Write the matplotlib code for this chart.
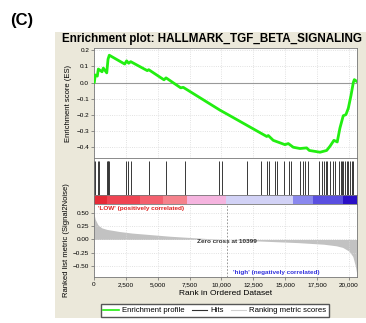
import numpy as np
import matplotlib
matplotlib.use("Agg")
import matplotlib.pyplot as plt
from matplotlib.patches import Rectangle
from matplotlib.lines import Line2D

plt.rcParams['font.family'] = ['Liberation Sans', 'DejaVu Sans']

# running enrichment score (rank, ES)
es_rank = [0, 24, 100, 260, 340, 630, 730, 1000, 1100, 1200, 2410, 2560, 2720, 2880,
           4180, 4290, 5490, 5650, 6800, 7000, 9880, 10670, 13550, 13670, 14060, 14980,
           15240, 15630, 16160, 16680, 16890, 17730, 18250, 18510, 18820, 19080, 19290,
           19550, 19760, 19950, 20160, 20340, 20420, 20600]
es_value = [0.0, 0.0, 0.047, 0.040, 0.084, 0.067, 0.09, 0.06, 0.145, 0.17, 0.115, 0.135,
            0.12, 0.13, 0.074, 0.08, 0.017, 0.029, -0.033, -0.030, -0.172, -0.207, -0.336,
            -0.330, -0.36, -0.387, -0.38, -0.403, -0.411, -0.407, -0.423, -0.434, -0.423,
            -0.397, -0.36, -0.37, -0.284, -0.207, -0.2, -0.16, -0.08, 0.0, 0.018, 0.008]

# positions of gene set members in the ranked list
hits = [24, 100, 340, 420, 1000, 1060, 1120, 1200, 2510, 2640, 2930, 4340, 5650, 7110,
        9830, 10020, 12040, 13100, 13590, 13750, 14200, 14330, 14900, 15290, 15430,
        16160, 16370, 16570, 16810, 17670, 17860, 18040, 18200, 18300, 18510, 18770,
        18900, 19240, 19350, 19450, 19550, 19690, 19820, 19950, 20080, 20240, 20340]

# ranked list metric (Signal2Noise)
metric_rank = [0, 100, 300, 600, 1000, 2000, 3000, 4000, 5000, 6000, 7000, 8000, 9000,
               10399, 11000, 12000, 13000, 14000, 15000, 16000, 17000, 18000, 19000,
               19500, 20000, 20300, 20500, 20620]
metric_value = [0.48, 0.38, 0.28, 0.22, 0.19, 0.15, 0.12, 0.10, 0.08, 0.06, 0.045, 0.03,
                0.015, 0.0, -0.008, -0.02, -0.03, -0.04, -0.05, -0.06, -0.075, -0.09,
                -0.12, -0.15, -0.22, -0.32, -0.5, -0.66]

# colour band along the ranked list
band_edges = [0, 1000, 3600, 5440, 7270, 10350, 15630, 17200, 19550, 20630]
band_colors = ['#e52a36', '#ef4452', '#f3606e', '#f5828c', '#f5b4df', '#d2d2f6',
               '#8a88ee', '#5a4fe0', '#2a10c6']

n_genes = 20630
zero_cross = 10399
xticks = [0, 2500, 5000, 7500, 10000, 12500, 15000, 17500, 20000]

W, H = 366, 323
fig = plt.figure(figsize=(W / 100, H / 100), dpi=100)


def box(x0, y0, x1, y1):
    return [x0 / W, 1 - y1 / H, (x1 - x0) / W, (y1 - y0) / H]


fig.patches.append(Rectangle((55 / W, 1 - 318 / H), (366 - 55) / W, (318 - 32) / H,
                             transform=fig.transFigure, facecolor='#ebe8da',
                             edgecolor='none', zorder=-5))
fig.text(10 / W, 1 - 20 / H, '(C)', fontsize=12, fontweight='bold', va='center')
fig.text(212 / W, 1 - 39 / H, 'Enrichment plot: HALLMARK_TGF_BETA_SIGNALING',
         fontsize=8.4, fontweight='bold', ha='center', va='center')

L, R = 94, 357
grid_kw = dict(color='#d8d8d8', linestyle=':', linewidth=0.6)

# ES panel
ax1 = fig.add_axes(box(L, 48, R, 158))
ax1.plot(es_rank, es_value, color='#22ee11', linewidth=2.0,
         solid_joinstyle='round', zorder=3)
ax1.axhline(0, color='#999999', linewidth=0.8)
ax1.set_xlim(0, n_genes)
ax1.set_ylim(-0.47, 0.215)
ax1.set_yticks([0.2, 0.1, 0.0, -0.1, -0.2, -0.3, -0.4])
ax1.set_yticklabels(['0.2', '0.1', '0.0', '\u22120.1', '\u22120.2', '\u22120.3', '\u22120.4'])
ax1.set_xticks(xticks)
ax1.set_xticklabels([])
ax1.grid(True, **grid_kw)
ax1.set_ylabel('Enrichment score (ES)', fontsize=5.5, labelpad=3)

# hits panel
ax2 = fig.add_axes(box(L, 158, R, 195))
ax2.vlines(hits, 0, 1, color='#383838', linewidth=0.7)
ax2.set_xlim(0, n_genes)
ax2.set_ylim(0, 1.08)
ax2.set_xticks([])
ax2.set_yticks([])

# colour band
ax3 = fig.add_axes(box(L, 195, R, 204))
for i, c in enumerate(band_colors):
    ax3.axvspan(band_edges[i], band_edges[i + 1], color=c, linewidth=0)
ax3.set_xlim(0, n_genes)
ax3.set_xticks([])
ax3.set_yticks([])

# ranked list metric panel
ax4 = fig.add_axes(box(L, 204, R, 277))
ax4.fill_between(metric_rank, 0, metric_value, color='#c2c2c2', linewidth=0)
ax4.axvline(zero_cross, color='#888888', linestyle=(0, (2, 2)), linewidth=0.6)
ax4.set_xlim(0, n_genes)
ax4.set_ylim(-0.71, 0.67)
ax4.set_yticks([0.5, 0.25, 0.0, -0.25, -0.5])
ax4.set_yticklabels(['0.50', '0.25', '0.00', '\u22120.25', '\u22120.50'])
ax4.set_xticks(xticks)
ax4.set_xticklabels([f'{t:,}' for t in xticks])
ax4.grid(True, **grid_kw)
ax4.text(300, 0.64, "'LOW' (positively correlated)", color='#dd2222', fontsize=4.6,
         fontweight='bold', va='top')
ax4.text(zero_cross, -0.04, 'Zero cross at 10399', fontsize=4.6, fontweight='bold',
         ha='center', va='center', color='#333333')
ax4.text(10900, -0.62, "'high' (negatively correlated)", color='#3333dd', fontsize=4.6,
         fontweight='bold', va='center')
ax4.set_xlabel('Rank in Ordered Dataset', fontsize=6, labelpad=2)
ax4.set_ylabel('Ranked list metric (Signal2Noise)', fontsize=5.5, labelpad=2)

for ax in (ax1, ax2, ax3, ax4):
    ax.tick_params(labelsize=4.6, length=2, width=0.5, pad=1.5, color='#666666')
    for s in ax.spines.values():
        s.set_linewidth(0.6)
        s.set_color('#777777')

handles = [Line2D([], [], color='#22ee11', linewidth=1.2),
           Line2D([], [], color='#303030', linewidth=0.8),
           Line2D([], [], color='#d0d0d0', linewidth=0.8)]
fig.legend(handles, ['Enrichment profile', 'Hits', 'Ranking metric scores'],
           loc='center', bbox_to_anchor=(215 / W, 1 - 310.5 / H), ncol=3,
           fontsize=5.6, frameon=True, fancybox=False, edgecolor='#555555',
           handlelength=2.0, handletextpad=0.4, columnspacing=0.9,
           borderpad=0.35, framealpha=1)

fig.savefig('out.png', dpi=100)
